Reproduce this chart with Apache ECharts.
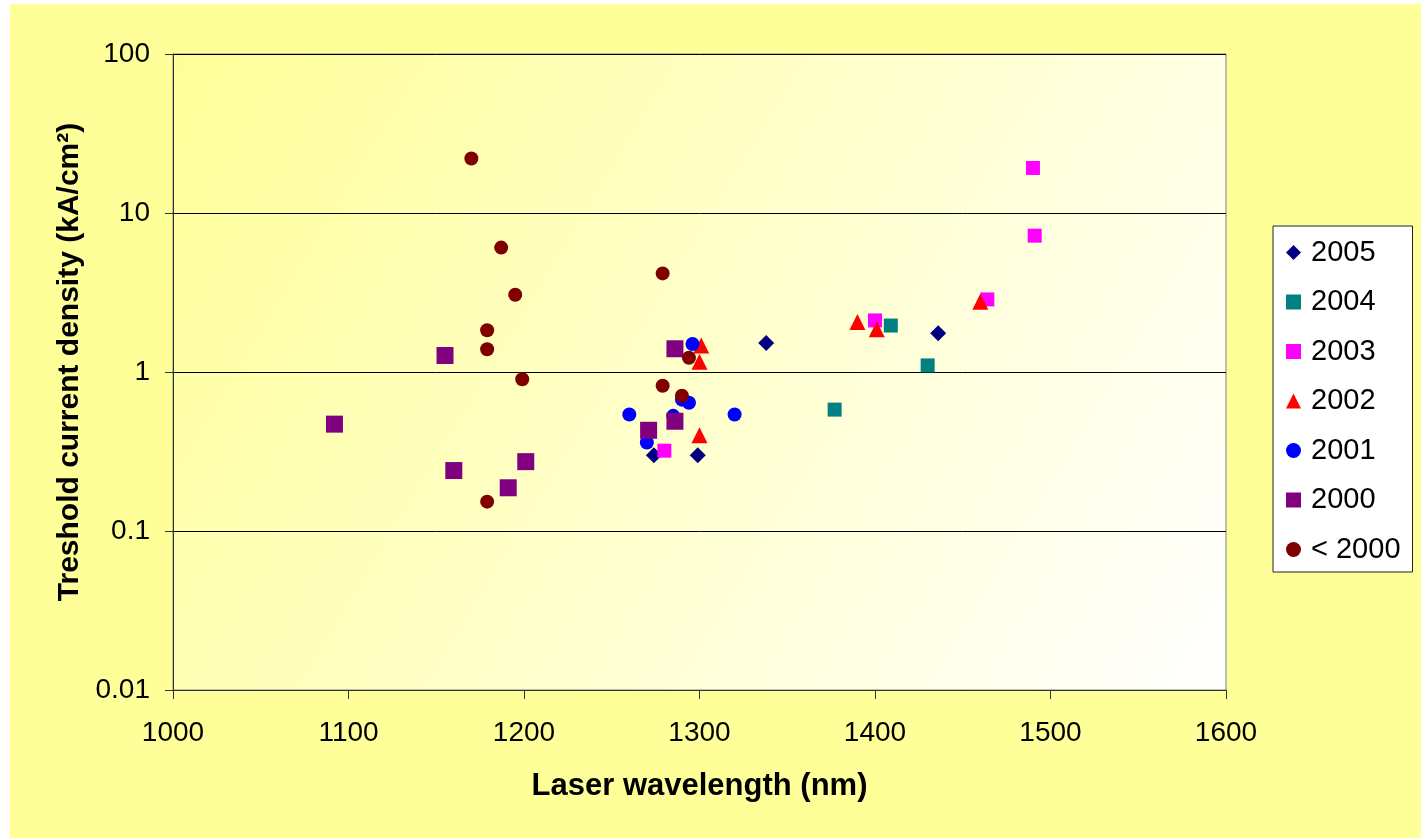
<!DOCTYPE html>
<html>
<head>
<meta charset="utf-8">
<script src="https://cdn.jsdelivr.net/npm/echarts@6/dist/echarts.min.js"></script>
<style>
html,body{margin:0;padding:0;background:#ffffff;overflow:hidden}
#c{position:absolute;left:10px;top:4px;width:1411px;height:834px}
</style>
</head>
<body>
<div id="c"></div>
<script>
// ---- data (wavelength nm, threshold current density kA/cm²) ----
const seriesNames = ['2005', '2004', '2003', '2002', '2001', '2000', '< 2000'];
const s2005 = [[1274, 0.30], [1299, 0.30], [1338, 1.52], [1436, 1.75]];
const s2004 = [[1377, 0.58], [1409, 1.96], [1430, 1.10]];
const s2003 = [[1280, 0.32], [1400, 2.11], [1464, 2.86], [1490, 19.2], [1491, 7.2]];
const s2002 = [[1301, 1.47], [1300, 1.16], [1300, 0.40], [1390, 2.06], [1401, 1.86], [1460, 2.77]];
const s2001 = [[1296, 1.50], [1290, 0.67], [1294, 0.64], [1260, 0.54], [1285, 0.53], [1320, 0.54], [1270, 0.36]];
const s2000 = [[1092, 0.47], [1155, 1.27], [1160, 0.24], [1191, 0.187], [1201, 0.273], [1286, 1.40], [1271, 0.43], [1286, 0.49]];
const sPre2000 = [[1170, 22.0], [1187, 6.06], [1195, 3.06], [1179, 1.83], [1179, 1.39], [1199, 0.90], [1179, 0.153], [1279, 4.17], [1279, 0.82], [1290, 0.71], [1294, 1.23]];
const yTickLabels = ['0.01', '0.1', '1', '10', '100'];
const xTitle = 'Laser wavelength (nm)';
const yTitle = 'Treshold current density (kA/cm²)';

const seriesData = [s2005, s2004, s2003, s2002, s2001, s2000, sPre2000];
const symbols = ['diamond', 'rect', 'rect', 'triangle', 'circle', 'rect', 'circle'];
const sizes = [16, 14, 14, 16, 14, 17, 14];
const colors = ['#000080', '#008080', '#FF00FF', '#FF0000', '#0000FF', '#800080', '#800000'];

const FONT = '"Liberation Sans", Arial, Helvetica, sans-serif';
const chart = echarts.init(document.getElementById('c'), null, { renderer: 'canvas' });

const option = {
  animation: false,
  backgroundColor: '#FFFF99',
  textStyle: { fontFamily: FONT },
  grid: {
    left: 163, top: 50, right: 195, bottom: 148,
    show: true,
    borderColor: '#808080', borderWidth: 1,
    backgroundColor: new echarts.graphic.LinearGradient(0, 0, 1, 1, [
      { offset: 0, color: '#FFFF99' },
      { offset: 1, color: '#FFFFFF' }
    ])
  },
  legend: {
    orient: 'vertical',
    left: 1263, top: 222,
    padding: [12, 12, 8, 13],
    itemGap: 20.5,
    itemWidth: 15, itemHeight: 15,
    backgroundColor: '#FFFFFF',
    borderColor: '#222222', borderWidth: 1,
    textStyle: { fontFamily: FONT, fontSize: 29, color: '#000', padding: [0, 0, 0, 5] },
    data: seriesNames
  },
  xAxis: {
    type: 'value', min: 1000, max: 1600, interval: 100,
    name: xTitle, nameLocation: 'middle', nameGap: 81,
    nameTextStyle: { fontFamily: FONT, fontSize: 31, fontWeight: 'bold', color: '#000' },
    axisLine: { show: true, onZero: false, lineStyle: { color: '#333', width: 1 } },
    axisTick: { show: true, inside: false, length: 9, lineStyle: { color: '#333' } },
    axisLabel: {
      fontFamily: FONT, fontSize: 28, color: '#000', margin: 29,
      formatter: function (v) { return String(v); }
    },
    splitLine: { show: false }
  },
  yAxis: {
    type: 'log', logBase: 10, min: 0.01, max: 100, splitNumber: 4,
    name: yTitle, nameLocation: 'middle', nameGap: 78,
    nameTextStyle: { fontFamily: FONT, fontSize: 30, fontWeight: 'bold', color: '#000', padding: [0, 0, 0, 20] },
    axisLine: { show: true, onZero: false, lineStyle: { color: '#333', width: 1 } },
    axisTick: { show: true, inside: false, length: 8, lineStyle: { color: '#333' } },
    minorTick: { show: false },
    axisLabel: {
      fontFamily: FONT, fontSize: 28, color: '#000', margin: 23,
      formatter: function (v) {
        const i = Math.round(Math.log10(v)) + 2;
        return yTickLabels[i] !== undefined ? yTickLabels[i] : String(v);
      }
    },
    splitLine: { show: true, lineStyle: { color: '#000', width: 1 } }
  },
  series: seriesNames.map(function (name, i) {
    return {
      name: name,
      type: 'scatter',
      data: seriesData[i],
      symbol: symbols[i],
      symbolSize: sizes[i],
      itemStyle: { color: colors[i], opacity: 1 },
      emphasis: { disabled: true }
    };
  })
};
chart.setOption(option);
</script>
</body>
</html>
